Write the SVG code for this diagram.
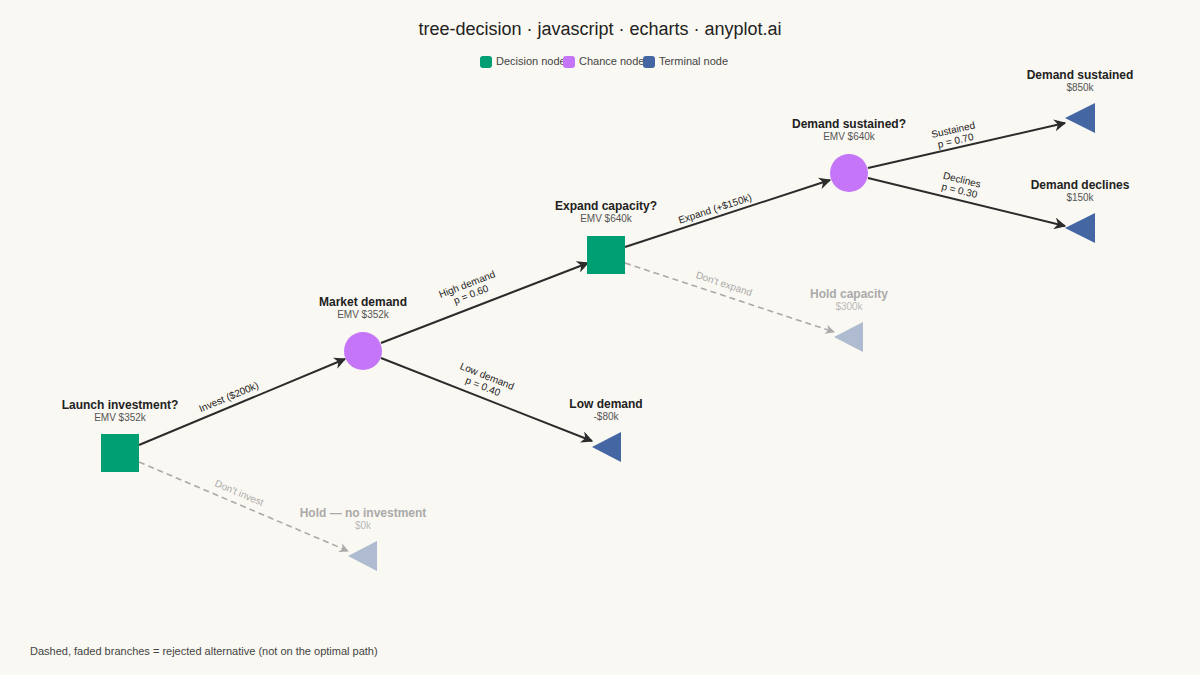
<svg xmlns="http://www.w3.org/2000/svg" width="1200" height="675" viewBox="0 0 1200 675">
<style>
text{font-family:"Liberation Sans",Arial,sans-serif}
.t{font-size:12px;font-weight:bold;fill:#222;text-anchor:middle}
.s{font-size:10px;fill:#555;text-anchor:middle}
.ft{font-size:12px;font-weight:bold;fill:#aaa;text-anchor:middle}
.fs{font-size:10px;fill:#bbb;text-anchor:middle}
.e{stroke:#2b2b2b;stroke-width:2;fill:none;marker-end:url(#a)}
.d{stroke:#aaa;stroke-width:1.6;stroke-dasharray:6 4;fill:none;marker-end:url(#ad)}
.l{font-size:10px;fill:#222;text-anchor:middle}
.ld{font-size:10px;fill:#aaa;text-anchor:middle}
.dec{fill:#009e73}.ch{fill:#c475f8}.term{fill:#4466a3}.fade{fill:#aebbd0}
</style>
<defs>
<marker id="a" viewBox="0 0 10 10" refX="9" refY="5" markerWidth="6" markerHeight="6" orient="auto"><path d="M0,0L10,5L0,10L3,5z" fill="#2b2b2b"/></marker>
<marker id="ad" viewBox="0 0 10 10" refX="9" refY="5" markerWidth="6" markerHeight="6" orient="auto"><path d="M0,0L10,5L0,10L3,5z" fill="#aaa"/></marker>
</defs>
<rect width="1200" height="675" fill="#faf8f2"/>
<text x="600" y="35" font-size="18" fill="#222" text-anchor="middle">tree-decision · javascript · echarts · anyplot.ai</text>
<g font-size="11">
<rect x="480" y="56" width="12" height="12" rx="3" class="dec"/><text x="496" y="65" fill="#444">Decision node</text>
<rect x="563" y="56" width="12" height="12" rx="3" class="ch"/><text x="579" y="65" fill="#444">Chance node</text>
<rect x="643" y="56" width="12" height="12" rx="3" class="term"/><text x="659" y="65" fill="#444">Terminal node</text>
</g>
<g id="connectors">
<path class="e" d="M139,445L345,359"/>
<path class="d" d="M139,462L348,551"/>
<path class="e" d="M381,343L588,263"/>
<path class="e" d="M381,358L592,441"/>
<path class="e" d="M625,247L830,180"/>
<path class="d" d="M625,263L834,332"/>
<path class="e" d="M868,168L1065,123"/>
<path class="e" d="M868,178L1065,226"/>
<text class="l" transform="translate(230,400) rotate(-22.7)">Invest ($200k)</text>
<text class="ld" transform="translate(238,496) rotate(23)">Don't invest</text>
<text class="l" transform="translate(470,292) rotate(-21.1)"><tspan x="0" y="-5">High demand</tspan><tspan x="0" y="6">p = 0.60</tspan></text>
<text class="l" transform="translate(484,384) rotate(21.8)"><tspan x="0" y="-5">Low demand</tspan><tspan x="0" y="6">p = 0.40</tspan></text>
<text class="l" transform="translate(716,212) rotate(-18.1)">Expand (+$150k)</text>
<text class="ld" transform="translate(723,287) rotate(18.3)">Don't expand</text>
<text class="l" transform="translate(955,138) rotate(-12.9)"><tspan x="0" y="-5">Sustained</tspan><tspan x="0" y="6">p = 0.70</tspan></text>
<text class="l" transform="translate(960,188) rotate(13.7)"><tspan x="0" y="-5">Declines</tspan><tspan x="0" y="6">p = 0.30</tspan></text>
</g>
<g id="launch"><rect x="101" y="434" width="38" height="38" class="dec"/><text class="t" x="120" y="409">Launch investment?</text><text class="s" x="120" y="421">EMV $352k</text></g>
<g id="market"><circle cx="363" cy="351" r="19" class="ch"/><text class="t" x="363" y="306">Market demand</text><text class="s" x="363" y="318">EMV $352k</text></g>
<g id="expand"><rect x="587" y="236" width="38" height="38" class="dec"/><text class="t" x="606" y="210">Expand capacity?</text><text class="s" x="606" y="222">EMV $640k</text></g>
<g id="sustained-q"><circle cx="849" cy="173" r="19" class="ch"/><text class="t" x="849" y="128">Demand sustained?</text><text class="s" x="849" y="140">EMV $640k</text></g>
<g id="low"><polygon points="592,447 621,432 621,462" class="term"/><text class="t" x="606" y="408">Low demand</text><text class="s" x="606" y="420">-$80k</text></g>
<g id="hold"><polygon points="348,556 377,541 377,571" class="fade"/><text class="ft" x="363" y="517">Hold — no investment</text><text class="fs" x="363" y="529">$0k</text></g>
<g id="holdcap"><polygon points="834,337 863,322 863,352" class="fade"/><text class="ft" x="849" y="298">Hold capacity</text><text class="fs" x="849" y="310">$300k</text></g>
<g id="sust"><polygon points="1065,118 1095,103 1095,133" class="term"/><text class="t" x="1080" y="79">Demand sustained</text><text class="s" x="1080" y="91">$850k</text></g>
<g id="decl"><polygon points="1065,228 1095,213 1095,243" class="term"/><text class="t" x="1080" y="189">Demand declines</text><text class="s" x="1080" y="201">$150k</text></g>
<text x="30" y="655" font-size="11" fill="#444">Dashed, faded branches = rejected alternative (not on the optimal path)</text>
</svg>
